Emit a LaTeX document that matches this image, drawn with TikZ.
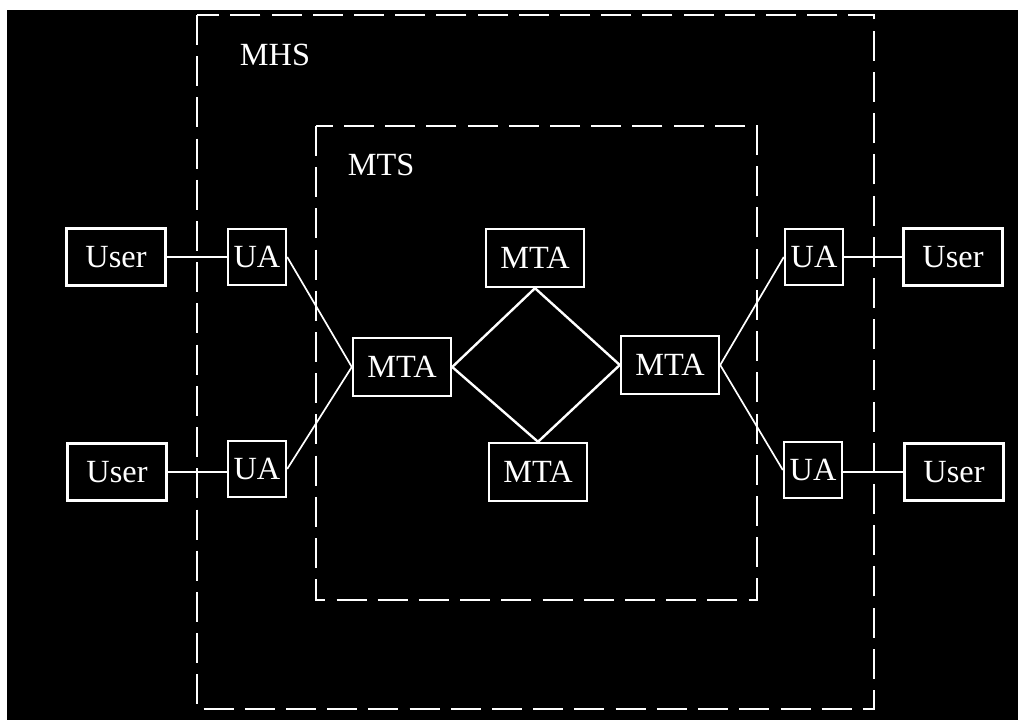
\documentclass[tikz,border=0pt]{standalone}
\usepackage{fontspec}
\setmainfont{Liberation Serif}
\begin{document}
\begin{tikzpicture}[x=0.025cm,y=-0.025cm,
  box/.style={draw=white, line width=1.7pt, text=white, font=\fontsize{23}{25}\selectfont, inner sep=0pt},
  userbox/.style={box, minimum width=2.475cm, minimum height=1.425cm},
  uabox/.style={box, minimum width=1.45cm, minimum height=1.4cm},
  mtabox/.style={box, minimum width=2.45cm, minimum height=1.45cm},
  lbl/.style={text=white, font=\fontsize{23}{25}\selectfont, inner sep=0pt},
  region/.style={draw=white, line width=2pt, dash pattern=on 0.75cm off 0.28cm},
  thin/.style={draw=white, line width=1pt},
  mid/.style={draw=white, line width=1.2pt},
  thick/.style={draw=white, line width=1.7pt}]
\useasboundingbox (0,0) rectangle (1018,720);
\fill[white] (0,0) rectangle (1018,720);
\fill[black] (7,10) rectangle (1018,720);
% regions
\draw[region] (197,15) rectangle (874,709);
\draw[region] (316,126) rectangle (757,600);
\node[lbl] (mhs) at (275,55) {MHS};
\node[lbl] (mts) at (381,165) {MTS};
% nodes
\node[userbox] (u1) at (116,257) {User};
\node[userbox] (u2) at (117,472) {User};
\node[userbox] (u3) at (953,257) {User};
\node[userbox] (u4) at (954,472) {User};
\node[uabox] (a1) at (257,257) {UA};
\node[uabox] (a2) at (257,469) {UA};
\node[uabox] (a3) at (814,257) {UA};
\node[uabox] (a4) at (813,470) {UA};
\node[mtabox] (ml) at (402,367) {MTA};
\node[mtabox] (mt) at (535,258) {MTA};
\node[mtabox] (mb) at (538,472) {MTA};
\node[mtabox] (mr) at (670,365) {MTA};
% connectors
\draw[thin] (u1) -- (a1);
\draw[thin] (u2.east) -- (u2.east -| a2.west);
\draw[thin] (a3) -- (u3);
\draw[thin] (u4.west) -- (u4.west -| a4.east);
\draw[mid] (a1.east) -- (ml.west);
\draw[mid] (a2.east) -- (ml.west);
\draw[mid] (mr.east) -- (a3.west);
\draw[mid] (mr.east) -- (a4.west);
\draw[thick] (ml.east) -- (mt.south);
\draw[thick] (ml.east) -- (mb.north);
\draw[thick] (mt.south) -- (mr.west);
\draw[thick] (mb.north) -- (mr.west);
\end{tikzpicture}
\end{document}
